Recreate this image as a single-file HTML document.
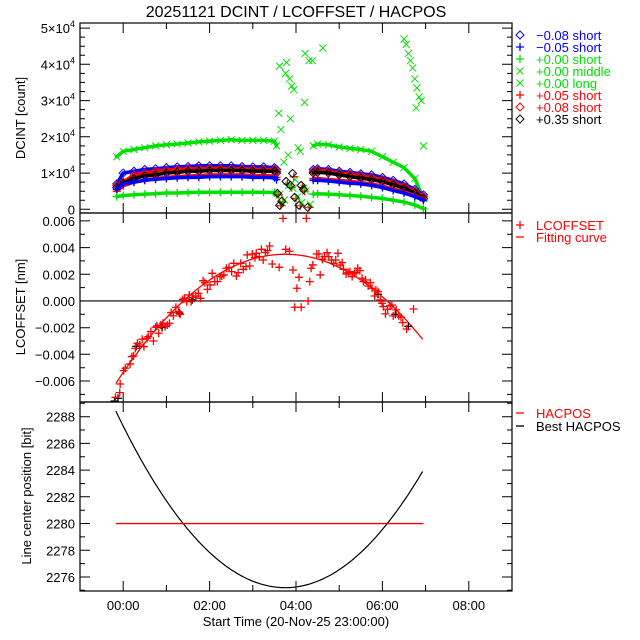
<!DOCTYPE html>
<html><head><meta charset="utf-8"><style>
html,body{margin:0;padding:0;background:#fff;}
svg{display:block;font-family:"Liberation Sans",sans-serif;}
</style></head><body>
<svg id="chart" width="640" height="640" viewBox="0 0 640 640" xmlns="http://www.w3.org/2000/svg">
<rect width="640" height="640" fill="#fff"/>
<text x="296" y="17" font-size="16" text-anchor="middle">20251121 DCINT / LCOFFSET / HACPOS</text>
<g id="g1"></g><g id="g2"></g><g id="g3"></g><g id="leg"></g>
</svg>
<script>
// ---- shared time axis ----
const xTicks=[0,2,4,6,8];
const xTickLabels=['00:00','02:00','04:00','06:00','08:00'];
// ---- panel 1: DCINT (units 1e4 count) ----
const tA=[-0.15,0,0.25,0.5,0.75,1,1.25,1.5,1.75,2,2.25,2.5,2.75,3,3.25,3.5,3.55];
const tB=[4.4,4.5,4.75,5,5.25,5.5,5.75,6,6.25,6.5,6.75,6.95];
const gMidA=[1.45,1.6,1.65,1.7,1.75,1.78,1.8,1.83,1.86,1.88,1.9,1.92,1.9,1.9,1.9,1.88,1.75];
const gMidB=[1.75,1.8,1.78,1.72,1.68,1.65,1.6,1.45,1.3,1.15,0.85,0.3];
const gShortA=[0.35,0.38,0.4,0.42,0.43,0.45,0.45,0.46,0.47,0.47,0.47,0.47,0.47,0.47,0.47,0.46,0.4];
const gShortB=[0.42,0.43,0.42,0.4,0.38,0.36,0.33,0.3,0.25,0.2,0.12,0.02];
const bDiaA=[0.7,1.0,1.05,1.1,1.12,1.15,1.17,1.18,1.2,1.2,1.2,1.2,1.18,1.17,1.17,1.15,1.1];
const bDiaB=[1.1,1.12,1.1,1.05,1.02,0.98,0.95,0.88,0.8,0.7,0.55,0.4];
const rDiaA=[0.65,0.75,0.95,1.0,1.05,1.08,1.1,1.12,1.12,1.13,1.13,1.12,1.12,1.1,1.1,1.1,1.05];
const rDiaB=[1.05,1.08,1.05,1.0,0.97,0.93,0.88,0.82,0.74,0.63,0.5,0.35];
const kDiaA=[0.6,0.72,0.85,0.92,0.95,1.0,1.02,1.05,1.05,1.07,1.07,1.07,1.07,1.05,1.05,1.05,1.0];
const kDiaB=[1.0,1.02,1.0,0.95,0.9,0.86,0.82,0.76,0.68,0.58,0.45,0.3];
const bPlusA=[0.55,0.7,0.75,0.8,0.83,0.85,0.87,0.88,0.88,0.9,0.9,0.9,0.9,0.88,0.88,0.87,0.82];
const bPlusB=[0.8,0.8,0.78,0.75,0.72,0.7,0.66,0.6,0.52,0.45,0.35,0.25];
const rPlusA=[0.5,0.65,0.75,0.8,0.85,0.88,0.9,0.92,0.93,0.95,0.95,0.95,0.95,0.93,0.93,0.92,0.88];
const rPlusB=[0.85,0.85,0.82,0.8,0.77,0.74,0.7,0.64,0.56,0.48,0.38,0.27];
const gLongT=[3.6,3.62,3.65,3.76,3.78,3.85,3.87,3.9,3.95,4.2,4.21,4.3,4.38,4.62,3.72,3.82,4.05,4.1,6.5,6.55,6.6,6.65,6.7,6.75,6.8,6.78,6.85,6.9,6.95];
const gLongV=[2.65,3.95,2.2,3.75,4.05,3.6,2.5,3.4,3.3,2.95,4.3,4.1,4.1,4.45,1.3,1.5,1.7,1.6,4.7,4.55,4.3,4.1,3.9,3.6,3.35,2.8,3.1,3.0,1.75];
const gapT=[3.6,3.65,3.7,3.8,3.9,3.95,4.0,4.1,4.15,4.2,4.3];
const gapV=[0.4,0.1,0.2,0.7,0.6,0.9,0.3,0.1,0.6,0.5,0.05];
// ---- panel 2: LCOFFSET (units 1e-3 nm) ----
const lcT=[-0.18,-0.08,-0.07,0.01,0.05,0.16,0.2,0.24,0.28,0.33,0.38,0.44,0.48,0.55,0.58,0.64,0.7,0.75,0.78,0.82,0.87,0.92,0.97,1.02,1.07,1.11,1.16,1.22,1.28,1.32,1.38,1.42,1.47,1.53,1.57,1.62,1.68,1.74,1.79,1.85,1.89,1.95,2.01,2.06,2.12,2.18,2.24,2.28,2.33,2.39,2.45,2.51,2.56,2.62,2.66,2.72,2.78,2.84,2.87,2.93,2.99,3.05,3.08,3.15,3.2,3.24,3.29,3.34,3.39,3.45,3.61,3.7,3.76,3.85,3.93,3.97,4.02,4.07,4.12,4.24,4.28,4.32,4.35,4.39,4.48,4.53,4.56,4.61,4.66,4.72,4.76,4.82,4.87,4.92,4.97,5.02,5.07,5.1,5.16,5.21,5.25,5.3,5.35,5.39,5.43,5.48,5.53,5.56,5.61,5.67,5.72,5.76,5.82,5.85,5.9,5.95,5.99,6.02,6.07,6.12,6.18,6.22,6.25,6.32,6.38,6.43,6.47,6.56,6.72];
const lcV=[-7.22,-6.87,-6.22,-5.22,-5.04,-4.72,-4.17,-4.12,-3.55,-3.17,-3.3,-2.87,-3.42,-2.8,-2.67,-2.3,-3.0,-1.97,-1.87,-2.42,-1.8,-1.67,-1.92,-1.8,-1.67,-0.87,-1.12,-0.47,-0.8,-1.0,0.12,0.2,-0.05,0.45,-0.05,0.27,0.37,0.57,0.2,1.52,1.37,0.87,1.2,2.07,1.45,1.45,1.82,1.87,1.95,2.45,2.52,2.2,2.82,1.87,2.12,2.82,2.37,2.57,3.45,2.62,3.52,3.25,3.57,3.32,3.87,3.07,3.62,3.77,4.12,2.77,2.52,6.19,3.87,3.72,2.32,-0.47,0.95,1.77,-0.47,6.19,0.0,1.45,2.45,2.7,3.52,3.52,1.95,3.12,3.32,3.62,3.32,3.07,2.82,3.07,3.57,2.7,2.87,2.37,2.02,2.12,2.2,1.82,2.07,2.12,2.45,2.27,1.7,1.45,1.57,1.12,1.37,0.95,0.37,0.82,0.7,0.07,-0.17,-0.42,-0.97,-0.62,-0.37,-0.3,-1.12,-0.67,-1.12,-1.22,-1.62,-2.1,-0.6];
const lcBlackT=[-0.2,-0.12,0.3,0.9,1.3,1.6,5.9,6.3,6.6];
const lcBlackV=[-7.5,-7.3,-3.4,-2.0,-0.9,0.1,0.5,-1.0,-1.9];
const fitPeakT=3.75, fitPeakV=3.5, fitCurv=-0.63, fitStart=-0.17, fitEnd=6.95;
const yTicks2=[6,4,2,0,-2,-4,-6];
const yTickLabels2=['0.006','0.004','0.002','0.000','\u22120.002','\u22120.004','\u22120.006'];
// ---- panel 3: HACPOS ----
const hacposValue=2280;
const bestMinT=3.75, bestMinV=2275.2, bestCurv=0.86;
const yTicks3=[2276,2278,2280,2282,2284,2286,2288];
const yTicks1=[0,1,2,3,4,5];

const NS='http://www.w3.org/2000/svg';
function mk(tag,attrs,parent){const e=document.createElementNS(NS,tag);for(const k in attrs)e.setAttribute(k,attrs[k]);parent.appendChild(e);return e;}
const X0=80,X1=512,xMin=-1,xMax=9;
const xs=h=>X0+(h-xMin)/(xMax-xMin)*(X1-X0);
function yScale(top,bot,vmin,vmax){return v=>bot-(v-vmin)/(vmax-vmin)*(bot-top);}
const P=[{top:23,bot:213,min:-0.102,max:5.14},{top:213,bot:402,min:-7.57,max:6.59},{top:402,bot:591,min:2274.95,max:2289.1}];
const ys=P.map(p=>yScale(p.top,p.bot,p.min,p.max));
const defs=mk('defs',{},document.getElementById('chart'));
P.forEach((p,i)=>{const c=mk('clipPath',{id:'clip'+i},defs);mk('rect',{x:X0,y:p.top,width:X1-X0,height:p.bot-p.top},c);});

function marker(g,type,x,y,col){
  let e;
  if(type==='d'){e=mk('path',{d:`M${x} ${y-4}L${x+4} ${y}L${x} ${y+4}L${x-4} ${y}Z`,fill:'none',stroke:col,'stroke-width':1},g);}
  else if(type==='p'){e=mk('path',{d:`M${x-4} ${y}H${x+4}M${x} ${y-4}V${y+4}`,stroke:col,'stroke-width':1.3},g);}
  else {e=mk('path',{d:`M${x-3.5} ${y-3.5}L${x+3.5} ${y+3.5}M${x+3.5} ${y-3.5}L${x-3.5} ${y+3.5}`,stroke:col,'stroke-width':1},g);}
  return e;
}
function axes(g,i,minorStep,majorTicks,labels,fmtSup){
  const p=P[i],y=ys[i];
  const fr=mk('rect',{x:X0,y:p.top,width:X1-X0,height:p.bot-p.top,fill:'none',stroke:'#000','stroke-width':1.2},g);
  
  
  let d='';
  for(let v=Math.ceil(p.min/minorStep)*minorStep;v<=p.max+1e-9;v+=minorStep){const yy=y(v).toFixed(1);d+=`M${X0} ${yy}h5M${X1} ${yy}h-5`;}
  majorTicks.forEach(v=>{const yy=y(v).toFixed(1);d+=`M${X0} ${yy}h10M${X1} ${yy}h-10`;});
  for(let h=-1;h<=9;h++){const xx=xs(h).toFixed(1);const L=(h%2===0)?10:6;d+=`M${xx} ${p.bot}v-${L}M${xx} ${p.top}v${L}`;}
  mk('path',{d:d,stroke:'#000','stroke-width':1,fill:'none'},g);
  majorTicks.forEach((v,k)=>{
    const t=mk('text',{x:75,y:y(v)+5,'font-size':13,'text-anchor':'end'},g);
    
    
    if(fmtSup&&v!==0){t.textContent=v+'\u00d710';const s=mk('tspan',{dy:-6,'font-size':9},t);s.textContent='4';}
    else t.textContent=labels?labels[k]:String(v);
  });
}
// Panel 1
const g1=document.getElementById('g1');
axes(g1,0,0.25,yTicks1,null,true);
const d1=mk('g',{'clip-path':'url(#clip0)'},g1);


function series(tArr,vArr,type,col,name,band){
  const g=mk('g',{},d1);
  
  
  if(band){mk('polyline',{points:tArr.map((t,k)=>xs(t)+','+ys[0](vArr[k])).join(' '),fill:'none',stroke:col,'stroke-width':band,'stroke-linejoin':'round','stroke-linecap':'round'},g);}
  tArr.forEach((t,k)=>{marker(g,type,xs(t),ys[0](vArr[k]),col);});
}
const G='#00e000',B='#0000ff',R='#ff0000',K='#000';
[[gMidA,gMidB,'x',G,'series-p000-middle'],[bDiaA,bDiaB,'d',B,'series-m008-short'],[rDiaA,rDiaB,'d',R,'series-p008-short'],[kDiaA,kDiaB,'d',K,'series-p035-short'],[rPlusA,rPlusB,'p',R,'series-p005-short'],[bPlusA,bPlusB,'p',B,'series-m005-short'],[gShortA,gShortB,'p',G,'series-p000-short']].forEach(s=>{
  series(tA,s[0],s[2],s[3],s[4]+'-a',3.5);
  series(tB,s[1],s[2],s[3],s[4]+'-b',3.5);
});
series(gLongT,gLongV,'x',G,'series-p000-long',0);
series(gapT,gapV,'p',R,'gap-points-red',0);
series(gapT.map(t=>t+0.03),gapV.map(v=>v*0.8+0.1),'x',G,'gap-points-green',0);
series(gapT.map(t=>t-0.03),gapV.map(v=>v*1.1),'d',K,'gap-points-black',0);
const yt1=mk('text',{x:0,y:0,'font-size':13,'text-anchor':'middle',transform:'translate(25,118) rotate(-90)'},g1);
yt1.textContent='DCINT [count]';



// Panel 2
const g2=document.getElementById('g2');
axes(g2,1,1,yTicks2,yTickLabels2,false);
const d2=mk('g',{'clip-path':'url(#clip1)'},g2);


const zl=mk('line',{x1:X0,x2:X1,y1:ys[1](0),y2:ys[1](0),stroke:'#000','stroke-width':1.2},d2);


let fp=[];for(let h=fitStart;h<=fitEnd+1e-9;h+=0.05){fp.push(xs(h).toFixed(1)+','+ys[1](fitCurv*(h-fitPeakT)**2+fitPeakV).toFixed(1));}
const fit=mk('polyline',{points:fp.join(' '),fill:'none',stroke:R,'stroke-width':1.3},d2);


lcBlackT.forEach((t,k)=>{const m=marker(d2,'p',xs(t),ys[1](lcBlackV[k]),K);});
lcT.forEach((t,k)=>{const m=marker(d2,'p',xs(t),ys[1](lcV[k]),R);});
const yt2=mk('text',{x:0,y:0,'font-size':13,'text-anchor':'middle',transform:'translate(25,307) rotate(-90)'},g2);
yt2.textContent='LCOFFSET [nm]';



// Panel 3
const g3=document.getElementById('g3');
axes(g3,2,1,yTicks3,null,false);
const d3=mk('g',{'clip-path':'url(#clip2)'},g3);
let bp=[];for(let h=fitStart;h<=fitEnd+1e-9;h+=0.05){bp.push(xs(h).toFixed(1)+','+ys[2](bestCurv*(h-bestMinT)**2+bestMinV).toFixed(1));}
const best=mk('polyline',{points:bp.join(' '),fill:'none',stroke:K,'stroke-width':1.2},d3);


const hl=mk('line',{x1:xs(fitStart),x2:xs(fitEnd),y1:ys[2](hacposValue),y2:ys[2](hacposValue),stroke:R,'stroke-width':1.3},d3);


const yt3=mk('text',{x:0,y:0,'font-size':13,'text-anchor':'middle',transform:'translate(31,496) rotate(-90)'},g3);
yt3.textContent='Line center position [bit]';


xTicks.forEach((h,k)=>{const t=mk('text',{x:xs(h),y:610,'font-size':13,'text-anchor':'middle'},g3);t.textContent=xTickLabels[k];});
const xt=mk('text',{x:296,y:626,'font-size':13,'text-anchor':'middle'},g3);
xt.textContent='Start Time (20-Nov-25 23:00:00)';



// Legends
const leg=document.getElementById('leg');
const L1=[['d',B,'\u22120.08 short'],['p',B,'\u22120.05 short'],['p',G,'+0.00 short'],['x',G,'+0.00 middle'],['x',G,'+0.00 long'],['p',R,'+0.05 short'],['d',R,'+0.08 short'],['d',K,'+0.35 short']];
L1.forEach((e,k)=>{const y=35+k*12;const g=mk('g',{},leg);marker(g,e[0],520,y,e[1]);const t=mk('text',{x:536,y:y+5,'font-size':13,fill:e[1]},g);t.textContent=e[2];});
function legLine(y,col,label,sym){const g=mk('g',{},leg);if(sym==='p')marker(g,'p',520,y,col);else mk('line',{x1:516,x2:524,y1:y,y2:y,stroke:col,'stroke-width':1.3},g);const t=mk('text',{x:536,y:y+5,'font-size':13,fill:col},g);t.textContent=label;}
legLine(225,R,'LCOFFSET','p');legLine(237,R,'Fitting curve','l');
legLine(413,R,'HACPOS','l');legLine(426,K,'Best HACPOS','l');
</script>
</body></html>
